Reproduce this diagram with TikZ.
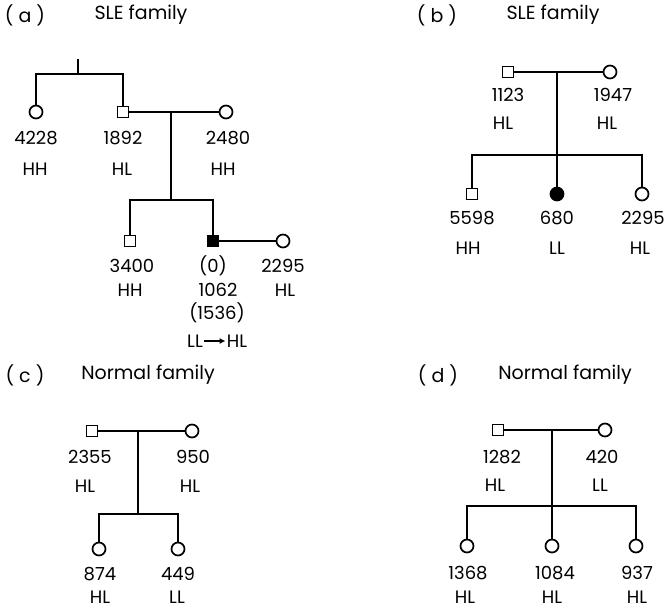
\documentclass[tikz,border=0pt]{standalone}
\usepackage{fontspec}
\setmainfont{Poppins}
\usetikzlibrary{arrows.meta}
\begin{document}
\begin{tikzpicture}[x=1pt,y=-1pt,line width=1.7pt,
  male/.style={draw,rectangle,minimum size=11pt,inner sep=0pt},
  female/.style={draw,circle,minimum size=13pt,inner sep=0pt},
  affm/.style={male,fill=black},
  afff/.style={female,fill=black},
  lbl/.style={font=\fontsize{18}{18}\selectfont,inner sep=0pt},
  ttl/.style={font=\fontsize{19}{19}\selectfont,inner sep=0pt}]
\useasboundingbox (0,0) rectangle (665,611);
% ---------- (a) ----------
\node[ttl] (ta) at (25,15) {( a )};
\node[ttl] (sa) at (141,15) {SLE family};
\coordinate (agp) at (78,59);
\coordinate (agpb) at (78,74);
\node[female] (a4228) at (36,112) {};
\node[male] (a1892) at (123,112) {};
\node[female] (a2480) at (226,112) {};
\draw (agp) -- (agpb);
\draw (a4228.north) |- (agpb) -| (a1892.north);
\draw (a1892) -- (a2480);
\coordinate (am) at (171,112);
\coordinate (asib) at (171,200);
\node[male] (a3400) at (130,241) {};
\node[affm] (a1062) at (213,241) {};
\node[female] (a2295) at (283,241) {};
\draw (am) -- (asib);
\draw (a3400.north) |- (asib) -| (a1062.north);
\draw (a1062) -- (a2295);
\node[lbl] (la4228) at (36,138) {4228};
\node[lbl] (ga4228) at (35,169) {HH};
\node[lbl] (la1892) at (123,138) {1892};
\node[lbl] (ga1892) at (122,169) {HL};
\node[lbl] (la2480) at (228,138) {2480};
\node[lbl] (ga2480) at (223,169) {HH};
\node[lbl] (la3400) at (132,266) {3400};
\node[lbl] (ga3400) at (130,290) {HH};
\node[lbl] (za1062) at (213,266) {(0)};
\node[lbl] (la1062) at (218,290) {1062};
\node[lbl] (pa1062) at (217,313) {(1536)};
\node[lbl] (g1a1062) at (195,341) {LL};
\node[lbl] (g2a1062) at (237,341) {HL};
\draw[line width=1.2pt,-{Latex[length=6pt,width=6pt]}] ([xshift=0.5pt]g1a1062.east) -- ([xshift=-0.5pt]g2a1062.west);
\node[lbl] (la2295) at (283,266) {2295};
\node[lbl] (ga2295) at (285,290) {HL};
% ---------- (b) ----------
\node[ttl] (tb) at (437,15) {( b )};
\node[ttl] (sb) at (553,15) {SLE family};
\node[male] (b1123) at (508,72) {};
\node[female] (b1947) at (610,72) {};
\draw (b1123) -- (b1947);
\coordinate (bm) at (557,72);
\coordinate (bsib) at (557,155);
\node[male] (b5598) at (472,194) {};
\node[afff] (b680) at (557,194) {};
\node[female] (b2295) at (642,194) {};
\draw (bm) -- (b680);
\draw (b5598.north) |- (bsib) -| (b2295.north);
\node[lbl] (lb1123) at (508,95) {1123};
\node[lbl] (gb1123) at (503,123) {HL};
\node[lbl] (lb1947) at (613,95) {1947};
\node[lbl] (gb1947) at (607,123) {HL};
\node[lbl] (lb5598) at (472,218) {5598};
\node[lbl] (gb5598) at (468,248) {HH};
\node[lbl] (lb680) at (557,218) {680};
\node[lbl] (gb680) at (557,248) {LL};
\node[lbl] (lb2295) at (643,218) {2295};
\node[lbl] (gb2295) at (640,248) {HL};
% ---------- (c) ----------
\node[ttl] (tc) at (25,375) {( c )};
\node[ttl] (sc) at (148,375) {Normal family};
\node[male] (c2355) at (92,431) {};
\node[female] (c950) at (192,431) {};
\draw (c2355) -- (c950);
\coordinate (cm) at (138,431);
\coordinate (csib) at (138,514);
\node[female] (c874) at (99,549) {};
\node[female] (c449) at (178,549) {};
\draw (cm) -- (csib);
\draw (c874.north) |- (csib) -| (c449.north);
\node[lbl] (lc2355) at (90,457) {2355};
\node[lbl] (gc2355) at (85,486) {HL};
\node[lbl] (lc950) at (193,457) {950};
\node[lbl] (gc950) at (190,486) {HL};
\node[lbl] (lc874) at (100,574) {874};
\node[lbl] (gc874) at (100,597) {HL};
\node[lbl] (lc449) at (178,574) {449};
\node[lbl] (gc449) at (177,597) {LL};
% ---------- (d) ----------
\node[ttl] (td) at (438,375) {( d )};
\node[ttl] (sd) at (565,375) {Normal family};
\node[male] (d1282) at (498,430) {};
\node[female] (d420) at (605,430) {};
\draw (d1282) -- (d420);
\coordinate (dm) at (552,430);
\coordinate (dsib) at (552,506);
\node[female] (d1368) at (467,546) {};
\node[female] (d1084) at (552,546) {};
\node[female] (d937) at (636,546) {};
\draw (dm) -- (d1084);
\draw (d1368.north) |- (dsib) -| (d937.north);
\node[lbl] (ld1282) at (502,457) {1282};
\node[lbl] (gd1282) at (495,485) {HL};
\node[lbl] (ld420) at (602,457) {420};
\node[lbl] (gd420) at (600,485) {LL};
\node[lbl] (ld1368) at (468,573) {1368};
\node[lbl] (gd1368) at (465,597) {HL};
\node[lbl] (ld1084) at (555,573) {1084};
\node[lbl] (gd1084) at (552,597) {HL};
\node[lbl] (ld937) at (637,573) {937};
\node[lbl] (gd937) at (637,597) {HL};
\end{tikzpicture}
\end{document}
